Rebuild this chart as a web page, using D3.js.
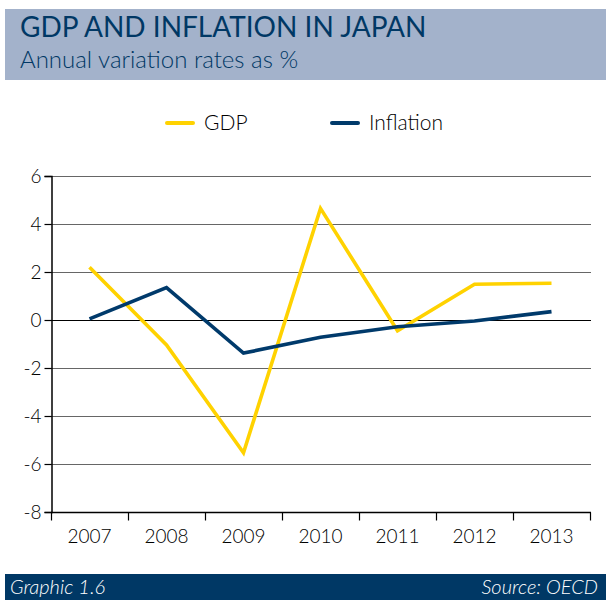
<!DOCTYPE html>
<html>
<head>
<meta charset="utf-8">
<script src="https://cdn.jsdelivr.net/npm/d3@7"></script>
<style>
  html, body { margin: 0; padding: 0; background: #fff; }
  svg { display: block; font-family: Lato, "Open Sans", sans-serif; }
</style>
</head>
<body>
<svg id="chart" width="606" height="600"></svg>
<script>
// Annual variation rates (%) for Japan
const years = ["2007", "2008", "2009", "2010", "2011", "2012", "2013"];
const gdp = [2.2, -1.04, -5.53, 4.65, -0.45, 1.49, 1.53];
const inflation = [0.05, 1.35, -1.38, -0.72, -0.28, -0.04, 0.35];
const yTicks = [6, 4, 2, 0, -2, -4, -6, -8];

const seriesList = [
  { name: "GDP", values: gdp, color: "#ffd200" },
  { name: "Inflation", values: inflation, color: "#003a6b" }
];

const svg = d3.select("#chart");
const navy = "#003865";

// Header band
svg.append("rect").attr("x", 5).attr("y", 9).attr("width", 601).attr("height", 71)
  .attr("fill", "#a3b2cb");
svg.append("text").attr("x", 20).attr("y", 37)
  .attr("fill", navy).attr("font-size", 28).attr("font-weight", 400)
  .text("GDP AND INFLATION IN JAPAN");
svg.append("text").attr("x", 20).attr("y", 68)
  .attr("fill", navy).attr("font-size", 24).attr("font-weight", 300)
  .text("Annual variation rates as %");

// Footer band
svg.append("rect").attr("x", 5).attr("y", 574).attr("width", 601).attr("height", 26)
  .attr("fill", navy);
svg.append("text").attr("x", 10).attr("y", 594)
  .attr("fill", "#fff").attr("font-size", 20).attr("font-style", "italic").attr("font-weight", 300)
  .text("Graphic 1.6");
svg.append("text").attr("x", 598).attr("y", 594).attr("text-anchor", "end")
  .attr("fill", "#fff").attr("font-size", 20).attr("font-style", "italic").attr("font-weight", 300)
  .text("Source: OECD");

// Scales
const x = d3.scaleBand().domain(years).range([51, 590]).paddingInner(0).paddingOuter(0);
const y = d3.scaleLinear().domain([-8, 6]).range([512, 176]);

// Horizontal gridlines
const g = svg.append("g");
g.selectAll("line.grid").data(yTicks.filter(t => t !== -8)).join("line")
  .attr("class", "grid")
  .attr("x1", 51).attr("x2", 591)
  .attr("y1", d => Math.round(y(d)) + 0.5).attr("y2", d => Math.round(y(d)) + 0.5)
  .attr("stroke", d => d === 0 ? "#000" : "#666").attr("stroke-width", 1.2);

// Y axis
const yAxis = g.append("g").attr("transform", "translate(51.5,0)")
  .call(d3.axisLeft(y).tickValues(yTicks).tickSize(7).tickPadding(3).tickFormat(d => String(d)));
yAxis.select(".domain").attr("stroke", "#000").attr("stroke-width", 1.5);
yAxis.selectAll(".tick line").attr("stroke", "#000").attr("stroke-width", 1.2);
yAxis.selectAll(".tick text").attr("font-size", 19).attr("fill", "#000")
  .attr("font-weight", 300).attr("font-family", "Lato, sans-serif");

// X axis: tick marks sit on the band edges, labels in the band centres
const xAxisG = g.append("g").attr("transform", "translate(0,512.5)");
xAxisG.append("line").attr("x1", 51).attr("x2", 591).attr("stroke", "#000").attr("stroke-width", 1.5);
const edges = years.map(d => x(d)).concat([x(years[years.length - 1]) + x.bandwidth()]);
xAxisG.selectAll("line.edge").data(edges).join("line")
  .attr("class", "edge")
  .attr("x1", d => Math.round(d) + 0.5).attr("x2", d => Math.round(d) + 0.5)
  .attr("y1", 0).attr("y2", 8).attr("stroke", "#000").attr("stroke-width", 1.2);
xAxisG.selectAll("text").data(years).join("text")
  .attr("x", d => x(d) + x.bandwidth() / 2).attr("y", 30)
  .attr("text-anchor", "middle").attr("font-size", 19).attr("font-weight", 300).attr("fill", "#000")
  .text(d => d);

// Series lines
const line = d3.line()
  .x((d, i) => x(years[i]) + x.bandwidth() / 2)
  .y(d => y(d));
svg.append("g").selectAll("path").data(seriesList).join("path")
  .attr("d", s => line(s.values))
  .attr("fill", "none").attr("stroke", s => s.color)
  .attr("stroke-width", 3.6).attr("stroke-linejoin", "miter");

// Legend
const legendPos = [167, 332];
const legend = svg.append("g").selectAll("g").data(seriesList).join("g")
  .attr("transform", (s, i) => `translate(${legendPos[i]},123)`);
legend.append("line").attr("x1", 0).attr("x2", 26).attr("y1", 0).attr("y2", 0)
  .attr("stroke", s => s.color).attr("stroke-width", 4).attr("stroke-linecap", "round");
legend.append("text").attr("x", 37).attr("y", 7)
  .attr("font-size", 21).attr("font-weight", 300).attr("fill", "#000").text(s => s.name);
</script>
</body>
</html>
